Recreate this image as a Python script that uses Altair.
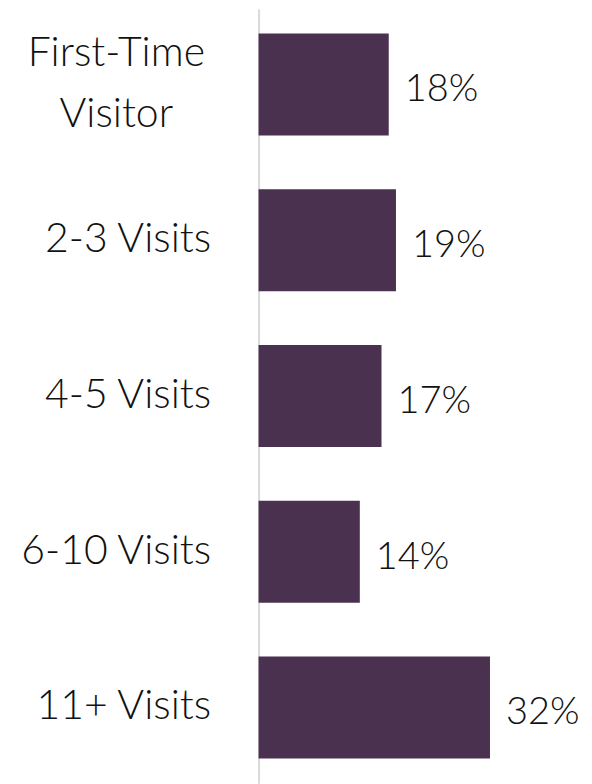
import altair as alt
import pandas as pd

categories = ["First-Time Visitor", "2-3 Visits", "4-5 Visits", "6-10 Visits", "11+ Visits"]
values = [18, 19, 17, 14, 32]
value_labels = ["18%", "19%", "17%", "14%", "32%"]

df = pd.DataFrame({"cat": categories, "val": values, "lab": value_labels})

first = "datum.label == 'First-Time Visitor'"
label_expr = first + " ? ['First-Time', 'Visitor'] : datum.label"

base = alt.Chart(df).encode(
    y=alt.Y(
        "cat:N",
        sort=categories,
        title=None,
        scale=alt.Scale(paddingInner=0.346, paddingOuter=0.16),
        axis=alt.Axis(
            ticks=False,
            tickSize=0,
            domain=True,
            domainColor="#d9d9d9",
            domainWidth=2,
            labelFont="Lato",
            labelFontWeight=300,
            labelFontSize=41,
            labelColor="#111111",
            labelPadding={"condition": {"test": first, "value": 143}, "value": 48},
            labelAlign={"condition": {"test": first, "value": "center"}, "value": "right"},
            labelOffset={"condition": {"test": first, "value": -31}, "value": 0},
            labelLimit=300,
            labelBaseline="middle",
            labelLineHeight=62,
            labelExpr=label_expr,
            grid=False,
        ),
    ),
    x=alt.X("val:Q", scale=alt.Scale(domain=[0, 45]), axis=None, title=None),
)

bars = base.mark_bar(color="#4b3150")
text = base.mark_text(
    align="left", baseline="middle", dx=16, dy=6, font="Lato", fontWeight=300,
    fontSize=38, color="#111111"
).encode(text="lab:N")

chart = (
    (bars + text)
    .properties(
        width=326,
        height=776,
        autosize=alt.AutoSizeParams(type="none"),
        padding={"left": 251, "top": 0, "right": 0, "bottom": 0},
    )
    .configure_view(stroke=None)
)

chart.save("out.html", embed_options={"renderer": "svg", "actions": False})
